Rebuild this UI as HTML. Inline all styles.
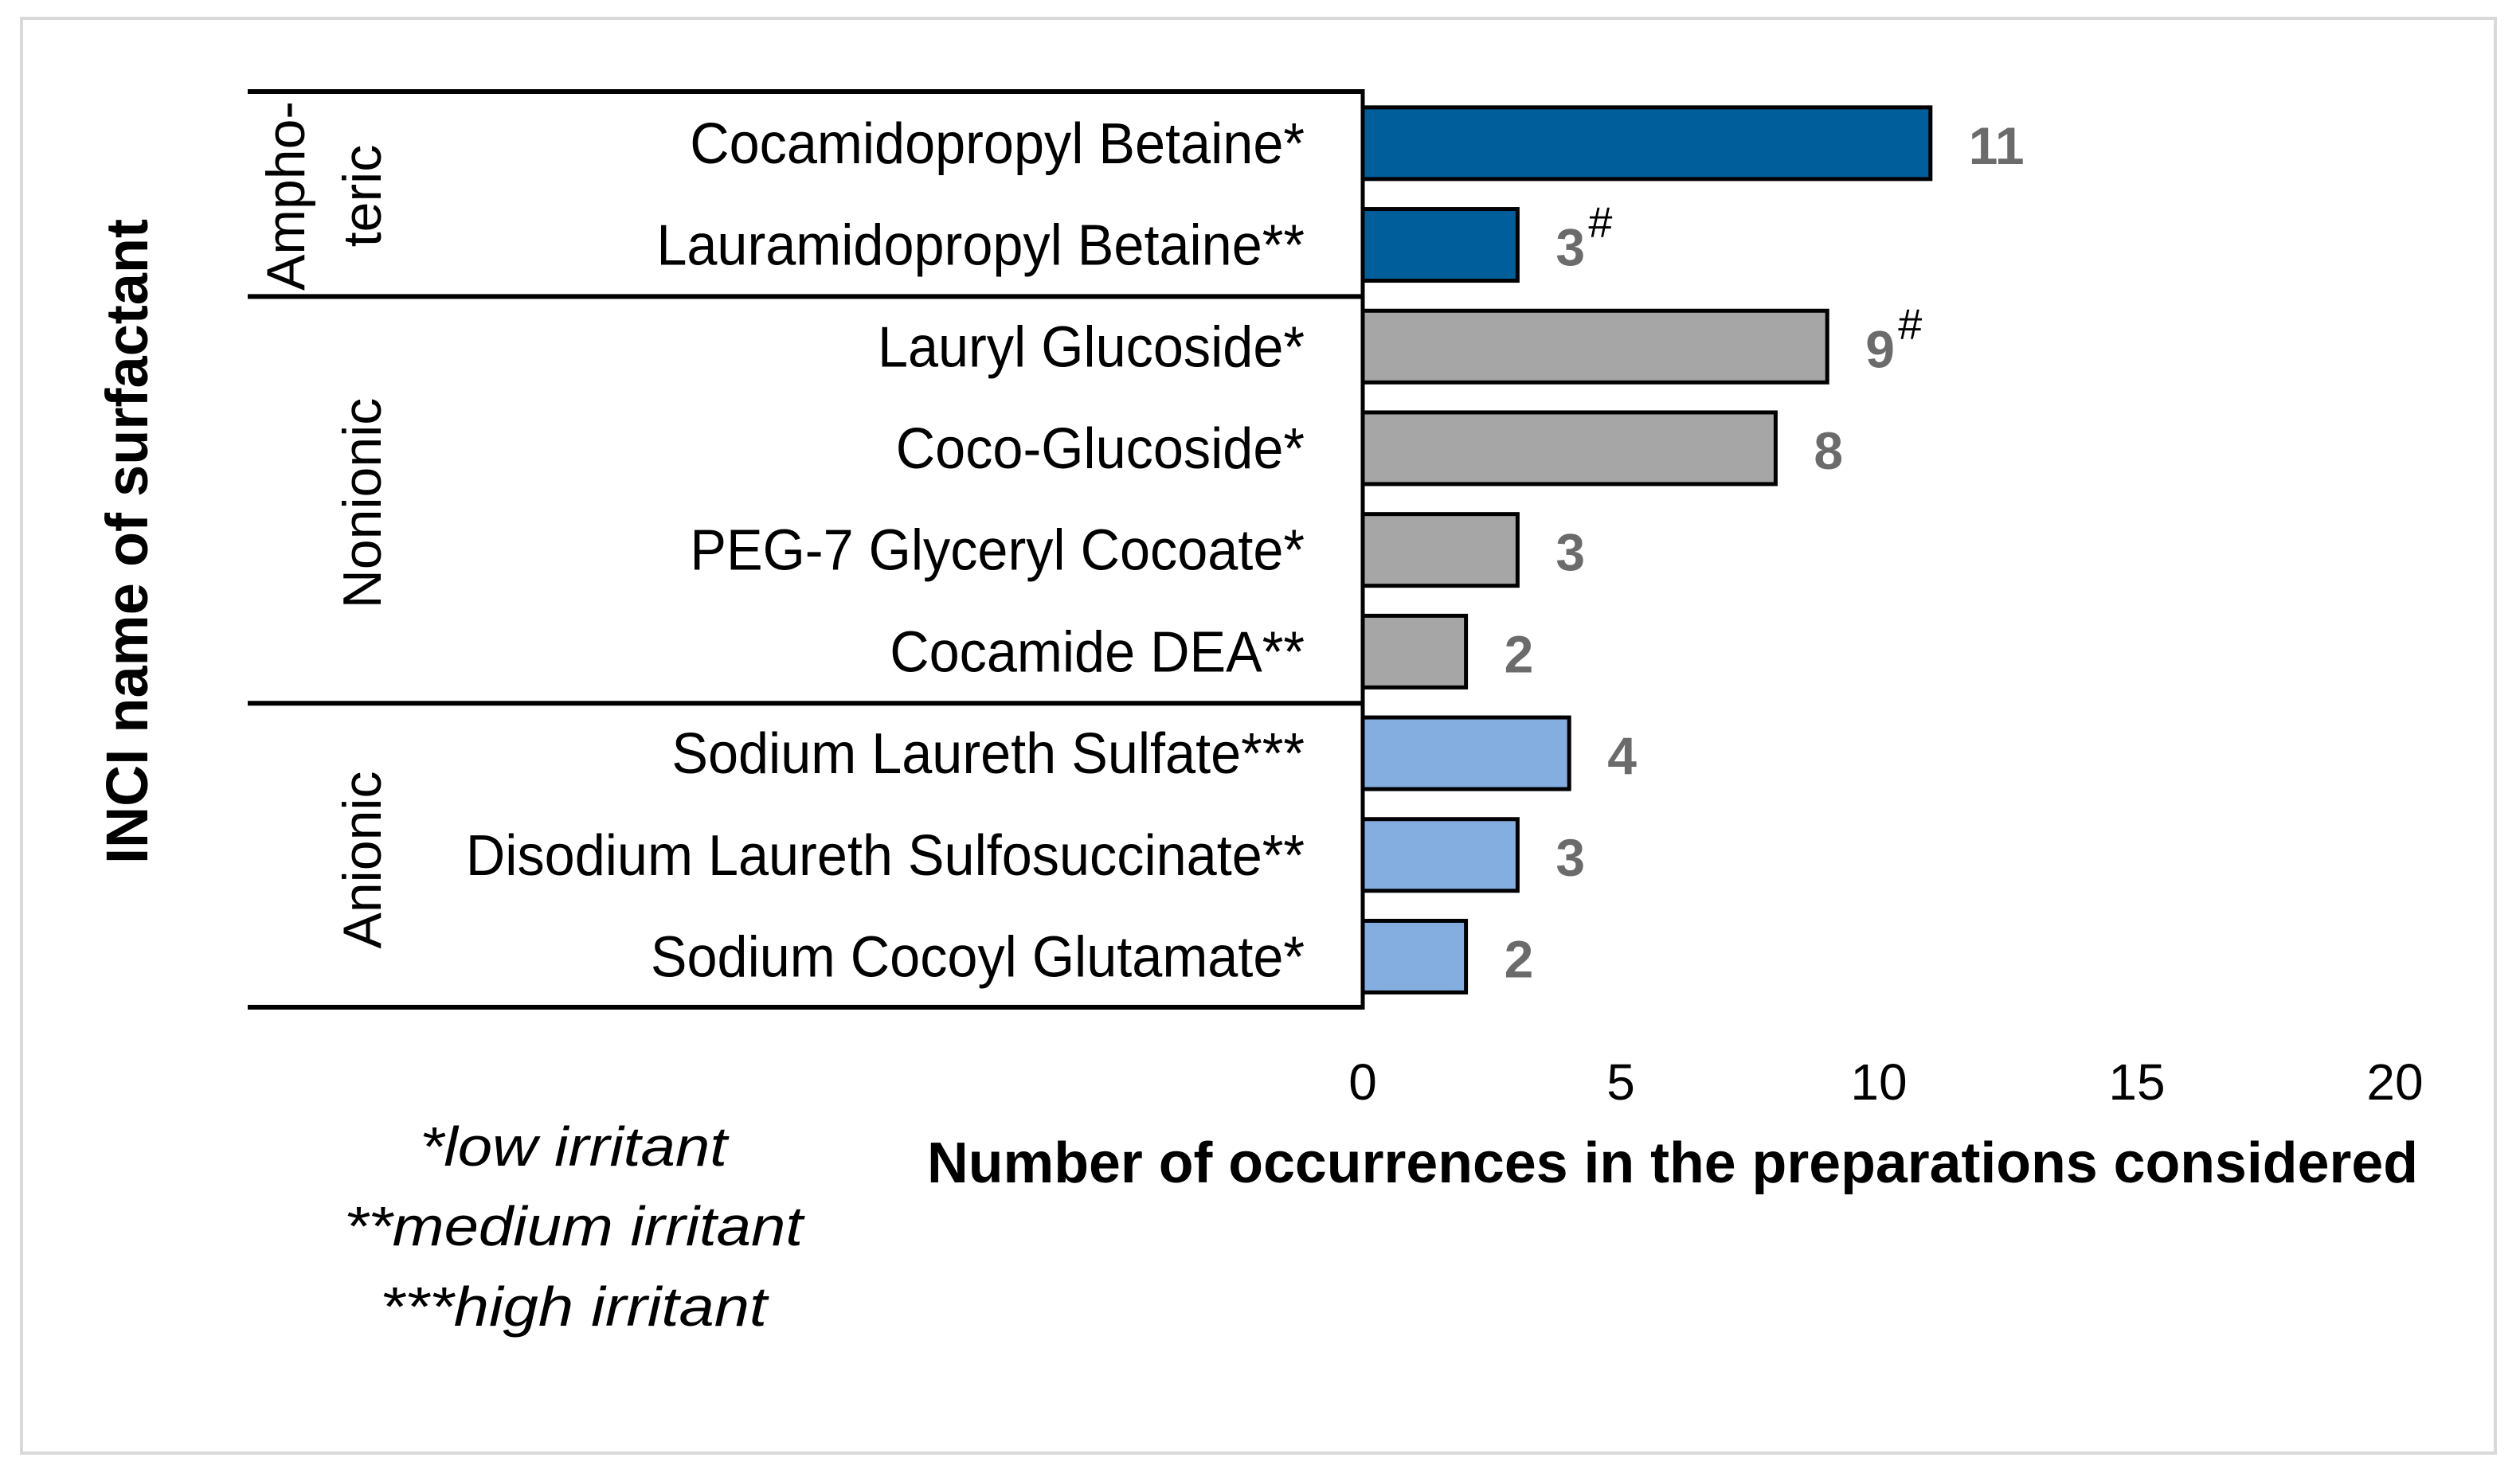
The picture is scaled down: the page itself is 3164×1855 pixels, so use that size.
<!DOCTYPE html>
<html><head><meta charset="utf-8">
<style>
html,body{margin:0;padding:0;background:#fff;}
svg{display:block;font-family:"Liberation Sans",sans-serif;}
</style></head>
<body>
<svg id="chart" width="3164" height="1855" viewBox="0 0 3164 1855" xmlns="http://www.w3.org/2000/svg">
<rect x="27" y="23" width="3106" height="1802" fill="#fff" stroke="#d9d9d9" stroke-width="4"/>
<g id="table"></g>
<g id="bars"></g>
<g id="labels"></g>
<g id="xticks"></g>
<text transform="translate(185,680) rotate(-90)" text-anchor="middle" font-size="74" font-weight="bold" textLength="810" lengthAdjust="spacingAndGlyphs">INCI name of surfactant</text>
<text x="2100" y="1485" text-anchor="middle" font-size="72" font-weight="bold" textLength="1872" lengthAdjust="spacingAndGlyphs">Number of occurrences in the preparations considered</text>
<g font-style="italic" font-size="70" text-anchor="middle">
<text x="720" y="1464" textLength="386" lengthAdjust="spacingAndGlyphs">*low irritant</text>
<text x="720" y="1564" textLength="576" lengthAdjust="spacingAndGlyphs">**medium irritant</text>
<text x="720" y="1665" textLength="486" lengthAdjust="spacingAndGlyphs">***high irritant</text>
</g>
</svg>
<script>
const categories = ["Cocamidopropyl Betaine*","Lauramidopropyl Betaine**","Lauryl Glucoside*","Coco-Glucoside*","PEG-7 Glyceryl Cocoate*","Cocamide DEA**","Sodium Laureth Sulfate***","Disodium Laureth Sulfosuccinate**","Sodium Cocoyl Glutamate*"];
const values = [11,3,9,8,3,2,4,3,2];
const marks = ["","#","#","","","","","",""];
const groups = ["amphoteric","amphoteric","nonionic","nonionic","nonionic","nonionic","anionic","anionic","anionic"];
const xTicks = [0,5,10,15,20];

const NS="http://www.w3.org/2000/svg";
const colors={amphoteric:"#005f9b",nonionic:"#a6a6a6",anionic:"#84aee0"};
const x0=1711, x1=3007, xMax=20;
const xs=v=>x0+(x1-x0)*v/xMax;
const topY=115, rowH=127.7;
const yc=i=>topY+rowH*(i+0.5)+1;
function mk(tag,attrs,parent){const e=document.createElementNS(NS,tag);for(const k in attrs)e.setAttribute(k,attrs[k]);parent.appendChild(e);return e;}

const bars=document.getElementById('bars'), labels=document.getElementById('labels'), table=document.getElementById('table');
categories.forEach((c,i)=>{
  const r=mk('rect',{x:xs(0),y:yc(i)-45,width:xs(values[i])-xs(0),height:90,fill:colors[groups[i]],stroke:'#000','stroke-width':5},bars);
  
  
  const t=mk('text',{x:0,y:0,transform:`translate(1638,${yc(i)+25}) scale(0.95,1)`,'text-anchor':'end','font-size':72},table);
  t.textContent=c;
  
  
  const v=mk('text',{x:xs(values[i])+48,y:yc(i)+26,'font-size':66,'font-weight':'bold',fill:'#6b6b6b'},labels);
  v.textContent=values[i];
  
  
  if(marks[i]){
    const m=mk('text',{x:xs(values[i])+48+(String(values[i]).length*37)+4,y:yc(i)-10,'font-size':54,fill:'#000'},labels);
    m.textContent=marks[i];
    
    
  }
});
const hl=[topY, topY+rowH*2+2, topY+rowH*6+2, 1265];
hl.forEach(y=>{const l=mk('line',{x1:311,x2:1711,y1:y,y2:y,stroke:'#000','stroke-width':6},table);
  
  });
const vl=mk('line',{x1:1711,x2:1711,y1:topY-3,y2:1268,stroke:'#000','stroke-width':5},table);


const gl=[["Ampho-",382,246],["teric",478,246],["Nonionic",478,632],["Anionic",478,1080]];
gl.forEach(g=>{const t=mk('text',{transform:`translate(${g[1]},${g[2]}) rotate(-90)`,'text-anchor':'middle','font-size':68},table);
  t.textContent=g[0];
  
  });
const xt=document.getElementById('xticks');
xTicks.forEach(v=>{const t=mk('text',{x:xs(v),y:1381,'text-anchor':'middle','font-size':64},xt);
  t.textContent=v;
  
  });
</script>
</body></html>
